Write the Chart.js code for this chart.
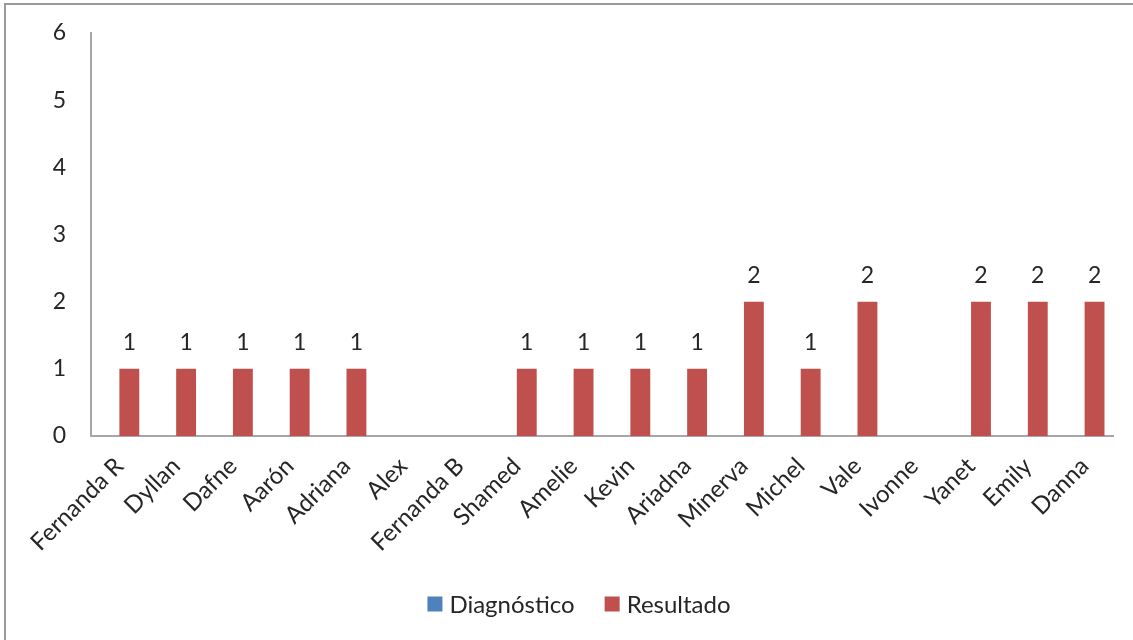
<!DOCTYPE html>
<html>
<head>
<meta charset="utf-8">
<script src="https://cdn.jsdelivr.net/npm/chart.js@4"></script>
<style>
  html, body { margin: 0; padding: 0; background: #fff; }
  #wrap { width: 1133px; height: 640px; }
</style>
</head>
<body>
<div id="wrap"><canvas id="chart" width="1133" height="640"></canvas></div>
<script>
// Students on the x axis
const students = ['Fernanda R', 'Dyllan', 'Dafne', 'Aarón', 'Adriana', 'Alex', 'Fernanda B',
  'Shamed', 'Amelie', 'Kevin', 'Ariadna', 'Minerva', 'Michel', 'Vale', 'Ivonne', 'Yanet',
  'Emily', 'Danna'];

// Diagnóstico scores (no bars shown)
const diagnostico = [null, null, null, null, null, null, null, null, null, null, null, null,
  null, null, null, null, null, null];

// Resultado scores
const resultado = [1, 1, 1, 1, 1, null, null, 1, 1, 1, 1, 2, 1, 2, null, 2, 2, 2];

// Y axis tick values
const yTicks = [0, 1, 2, 3, 4, 5, 6];

const FONT = 'Lato, "Open Sans", sans-serif';
const TEXT = '#262626';

// Outer frame of the chart object
const framePlugin = {
  id: 'frame',
  beforeDraw(chart) {
    const c = chart.ctx;
    c.save();
    c.strokeStyle = '#9a9a9a';
    c.lineWidth = 2;
    c.beginPath();
    c.moveTo(5, 640);
    c.lineTo(5, 4);
    c.lineTo(1133, 4);
    c.stroke();
    c.restore();
  }
};

// Value labels above the Resultado bars
const valueLabels = {
  id: 'valueLabels',
  afterDatasetsDraw(chart) {
    const c = chart.ctx;
    const idx = 1;
    const meta = chart.getDatasetMeta(idx);
    const data = chart.data.datasets[idx].data;
    c.save();
    c.font = '23px ' + FONT;
    c.fillStyle = TEXT;
    c.textAlign = 'center';
    c.textBaseline = 'alphabetic';
    meta.data.forEach((bar, i) => {
      const v = data[i];
      if (v === null || v === undefined) return;
      c.fillText(String(v), bar.x, bar.y - 19);
    });
    c.restore();
  }
};

// Legend row below the axis labels, centred on the frame
const legendRow = {
  id: 'legendRow',
  afterDraw(chart) {
    const c = chart.ctx;
    const box = 15, gap = 7, spacing = 30, centerX = 579, centerY = 604;
    c.save();
    c.font = '24px ' + FONT;
    c.textBaseline = 'middle';
    c.textAlign = 'left';
    const items = chart.data.datasets.map(ds => ({
      text: ds.label, color: ds.backgroundColor, w: c.measureText(ds.label).width
    }));
    let total = 0;
    items.forEach((it, i) => { total += box + gap + it.w + (i ? spacing : 0); });
    let x = centerX - total / 2;
    items.forEach(it => {
      c.fillStyle = it.color;
      c.fillRect(x, centerY - box / 2, box, box);
      c.fillStyle = TEXT;
      c.fillText(it.text, x + box + gap, centerY + 1);
      x += box + gap + it.w + spacing;
    });
    c.restore();
  }
};

new Chart(document.getElementById('chart'), {
  type: 'bar',
  data: {
    labels: students,
    datasets: [
      { label: 'Diagnóstico', data: diagnostico, backgroundColor: '#4F81BD',
        categoryPercentage: 0.7, barPercentage: 1.0 },
      { label: 'Resultado', data: resultado, backgroundColor: '#C0504D',
        categoryPercentage: 0.7, barPercentage: 1.0 }
    ]
  },
  options: {
    responsive: false,
    animation: false,
    layout: { padding: { left: 0, right: 20, top: 33, bottom: 0 } },
    plugins: {
      legend: { display: false },
      tooltip: { enabled: false }
    },
    scales: {
      x: {
        grid: { display: false, drawTicks: false },
        border: { display: true, color: '#a6a6a6', width: 2 },
        ticks: {
          font: { family: FONT, size: 24 },
          color: TEXT,
          maxRotation: 45,
          minRotation: 45,
          padding: 16,
          autoSkip: false
        },
        afterFit(scale) { scale.height = 204; }
      },
      y: {
        min: 0,
        max: 6,
        afterBuildTicks(scale) { scale.ticks = yTicks.map(v => ({ value: v })); },
        grid: { display: false, drawTicks: false },
        border: { display: true, color: '#a6a6a6', width: 2 },
        ticks: {
          font: { family: FONT, size: 23 },
          color: TEXT,
          padding: 25
        },
        afterFit(scale) {
          scale.width = 91;
          // only the half label height is needed above the top tick
          scale.paddingTop = 14;
          scale.paddingBottom = 14;
        }
      }
    }
  },
  plugins: [framePlugin, valueLabels, legendRow]
});
</script>
</body>
</html>
